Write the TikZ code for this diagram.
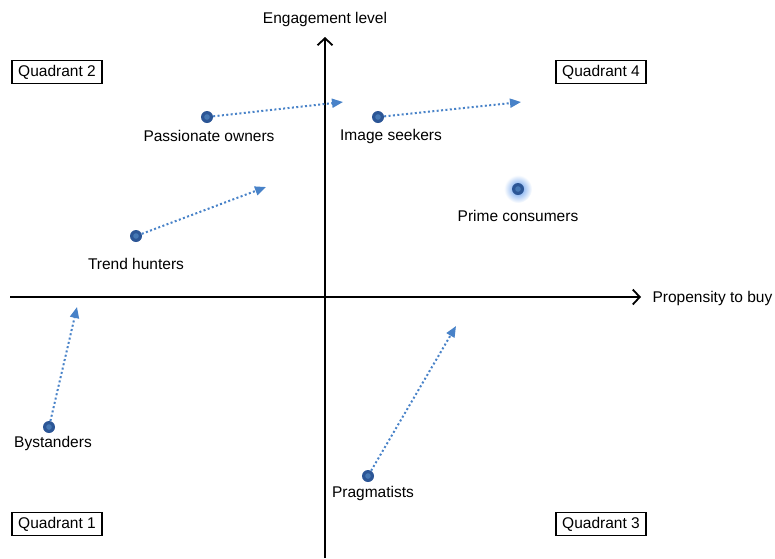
\documentclass[tikz,border=0pt]{standalone}
\usepackage{fontspec}
\setmainfont{Liberation Sans}
\usetikzlibrary{arrows.meta,positioning}
\definecolor{dotblue}{RGB}{44,86,150}
\definecolor{dotcore}{RGB}{70,120,180}
\definecolor{trendblue}{RGB}{72,130,200}
\definecolor{glowblue}{RGB}{90,150,235}

\begin{document}
\begin{tikzpicture}[x=1pt,y=-1pt,
    every node/.style={font=\fontsize{15.5}{18}\selectfont},
    axis/.style={line width=1.8pt,-{Straight Barb[length=7pt,width=15pt,line width=1.8pt]}},
    quad/.style={draw,line width=1.6pt,inner xsep=6pt,minimum height=23pt},
    seg/.style={circle,fill=dotblue,inner sep=0pt,minimum size=12pt,
      path picture={\fill[dotcore] (path picture bounding box.center) circle (2.8pt);}},
    move/.style={trendblue,line width=2pt,dash pattern=on 2pt off 2.4pt,
      -{Triangle[length=11pt,width=9pt,fill=trendblue,sep=0pt]}}]
  \useasboundingbox (0,0) rectangle (775,558);

  % axes
  \coordinate (xl) at (10,297);
  \coordinate (xr) at (641,297);
  \coordinate (yb) at (325,558);
  \coordinate (yt) at (325,37);
  \draw[axis] (xl) -- (xr);
  \draw[axis] (yb) -- (yt);
  \node[anchor=west] (xlab) at (649,298) {Propensity to buy};
  \node (ylab) at (325,19) {Engagement level};

  % quadrant tags
  \node[quad] (q2) at (57,72)  {Quadrant 2};
  \node[quad] (q4) at (601,72) {Quadrant 4};
  \node[quad] (q1) at (57,524) {Quadrant 1};
  \node[quad] (q3) at (601,524) {Quadrant 3};

  % glow under prime consumers
  \shade[inner color=glowblue,outer color=white] (518,189) circle (14pt);

  % segments
  \node[seg] (owners)  at (207,117) {};
  \node[seg] (seekers) at (378,117) {};
  \node[seg] (prime)   at (518,189) {};
  \node[seg] (hunters) at (136,236) {};
  \node[seg] (bystand) at (49,427)  {};
  \node[seg] (pragma)  at (368,476) {};

  \node (lowners)  at (209,136) {Passionate owners};
  \node (lseekers) at (391,136) {Image seekers};
  \node (lprime)   at (518,216) {Prime consumers};
  \node (lhunters) at (136,264) {Trend hunters};
  \node (lbystand) at (53,443)  {Bystanders};
  \node (lpragma)  at (373,493) {Pragmatists};

  % where each segment is heading
  \coordinate (towners)  at (343,102);
  \coordinate (tseekers) at (521,102);
  \coordinate (thunters) at (266,187);
  \coordinate (tbystand) at (77,307);
  \coordinate (tpragma)  at (456,326);
  \foreach \s in {owners,seekers,hunters,bystand,pragma}
    \draw[move] (\s) -- (t\s);
\end{tikzpicture}
\end{document}
